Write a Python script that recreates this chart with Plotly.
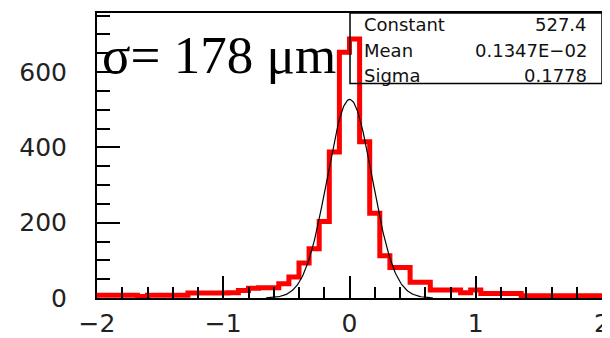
import numpy as np
import plotly.graph_objects as go

# ---- data ----
bin_low = -2.0
bin_high = 2.0
n_bins = 50
counts = [7, 7, 7, 7, 4, 7, 7, 7, 7, 13,
          13, 13, 13, 14, 20, 26, 27, 27, 38, 56,
          93, 131, 203, 388, 653, 688, 415, 225, 112, 81,
          81, 42, 42, 21, 21, 21, 14, 21, 12, 12,
          12, 12, 6, 6, 6, 6, 6, 6, 6, 6]

fit_constant = 527.4
fit_mean = 0.1347e-02
fit_sigma = 0.1778
fit_range = [-0.66, 0.66]

stat_names = ["Constant", "Mean", "Sigma"]
stat_values = ["527.4", "0.1347E\u221202", "0.1778"]

x_tickvals = [-2, -1, 0, 1, 2]
y_tickvals = [0, 200, 400, 600]
y_max = 757

label_text = "\u03c3= 178 \u03bcm"

# ---- build traces ----
edges = np.linspace(bin_low, bin_high, n_bins + 1)
step_y = list(counts) + [counts[-1]]

xf = np.linspace(fit_range[0], fit_range[1], 200)
yf = fit_constant * np.exp(-0.5 * ((xf - fit_mean) / fit_sigma) ** 2)

fig = go.Figure()
fig.add_trace(go.Scatter(x=edges, y=step_y, mode="lines", line_shape="hv",
                         line=dict(color="#ff0000", width=5), hoverinfo="skip"))
fig.add_trace(go.Scatter(x=xf, y=yf, mode="lines",
                         line=dict(color="black", width=1.2), hoverinfo="skip"))

# page body has an 8px margin; figure sized so it fills the 610x338 window
OFF = 8
W, H = 610 - OFF, 338 - OFF
# plot area in window pixels: left 97, right 602, top 13, bottom 298
L, R, T, B = 97 - OFF, 8, 13 - OFF, 338 - 298
pw, ph = W - L - R, H - T - B

def px(xp):
    return (xp - 97) / pw

def py(yp):
    return (298 - yp) / ph

tickfont = dict(family="DejaVu Sans", size=25, color="#222222")

fig.update_layout(
    width=W, height=H, autosize=False,
    margin=dict(l=L, r=R, t=T, b=B, pad=0),
    paper_bgcolor="white", plot_bgcolor="white",
    showlegend=False,
    xaxis=dict(range=[bin_low, bin_high], tickvals=x_tickvals,
               ticktext=[("\u2212" + str(-v)) if v < 0 else str(v) for v in x_tickvals],
               ticks="inside", ticklen=22, tickwidth=2, tickcolor="black",
               minor=dict(ticks="inside", ticklen=11, tickwidth=2, tickcolor="black", dtick=0.2, tick0=-2, showgrid=False),
               showline=True, linecolor="black", linewidth=2, mirror=True, automargin=False,
               showgrid=False, zeroline=False, tickfont=tickfont, ticklabelstandoff=2),
    yaxis=dict(range=[0, y_max], tickvals=y_tickvals,
               ticks="inside", ticklen=23, tickwidth=2, tickcolor="black",
               minor=dict(ticks="inside", ticklen=13, tickwidth=2, tickcolor="black", dtick=50, tick0=0, showgrid=False),
               showline=True, linecolor="black", linewidth=2, mirror=True, automargin=False,
               showgrid=False, zeroline=False, tickfont=tickfont, ticklabelstandoff=23),
)

# stats box
fig.add_shape(type="rect", xref="paper", yref="paper",
              x0=px(350), x1=1, y0=py(83.5), y1=1,
              line=dict(color="black", width=1.5), fillcolor="rgba(0,0,0,0)", layer="above")

row_y = [24, 50.5, 75]
statfont = dict(family="DejaVu Sans", size=18, color="#111111")
for name, val, ry in zip(stat_names, stat_values, row_y):
    fig.add_annotation(xref="paper", yref="paper", x=px(362), y=py(ry),
                       text=name, showarrow=False, xanchor="left", yanchor="middle",
                       font=statfont)
    fig.add_annotation(xref="paper", yref="paper", x=px(589), y=py(ry),
                       text=val, showarrow=False, xanchor="right", yanchor="middle",
                       font=statfont)

fig.add_annotation(xref="paper", yref="paper", x=px(100), y=py(55),
                   text=label_text, showarrow=False, xanchor="left", yanchor="middle",
                   font=dict(family="Liberation Serif", size=53, color="black"))

fig.write_html("out.html")
